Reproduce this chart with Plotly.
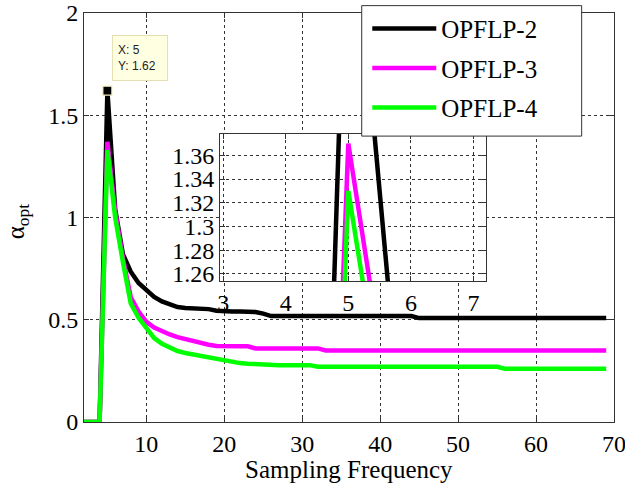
import plotly.graph_objects as go

# Sampling frequency (x) and optimal alpha for each filter order
freq = list(range(2, 70))

opflp2 = [0, 0, 0, 1.62, 1.04, 0.82, 0.735, 0.68, 0.645, 0.612, 0.59, 0.575,
          0.562, 0.558, 0.556, 0.556, 0.552, 0.544, 0.54, 0.54, 0.54, 0.54,
          0.538, 0.53] + [0.518] * 19 + [0.508] * 25

opflp3 = [0, 0, 0, 1.37, 1.03, 0.80, 0.61, 0.54, 0.49, 0.462, 0.443, 0.428,
          0.415, 0.405, 0.397, 0.389, 0.378, 0.372, 0.37, 0.37, 0.37, 0.37] \
    + [0.36] * 9 + [0.35] * 37

opflp4 = [0, 0, 0, 1.33, 1.00, 0.78, 0.58, 0.51, 0.46, 0.41, 0.383, 0.362,
          0.347, 0.337, 0.33, 0.324, 0.318, 0.311, 0.302, 0.293, 0.288, 0.285,
          0.282, 0.28] + [0.278] * 6 + [0.27] * 24 + [0.261] * 14

series_names = ["OPFLP-2", "OPFLP-3", "OPFLP-4"]
series_colors = ["#000000", "#ff00ff", "#00ff00"]
series_values = [opflp2, opflp3, opflp4]

main_xticks = [10, 20, 30, 40, 50, 60, 70]
main_yticks = [0, 0.5, 1, 1.5, 2]
main_yticktext = ["0", "0.5", "1", "1.5", "2"]
inset_xticks = [3, 4, 5, 6, 7]
inset_yticks = [1.26, 1.28, 1.30, 1.32, 1.34, 1.36]
inset_yticktext = ["1.26", "1.28", "1.3", "1.32", "1.34", "1.36"]

SERIF = "Liberation Serif"
LINE_W = 4.5
AXIS_COLOR = "#333333"
GRID_COLOR = "#333333"

fig = go.Figure()

# main plot curves
for name, ys, color in zip(series_names, series_values, series_colors):
    fig.add_trace(go.Scatter(
        x=freq, y=ys, mode="lines", name=name,
        line=dict(color=color, width=LINE_W),
        legendgroup=name, xaxis="x", yaxis="y",
    ))

# data cursor on the OPFLP-2 peak
peak_idx = max(range(len(opflp2)), key=lambda k: opflp2[k])
peak_x, peak_y = freq[peak_idx], opflp2[peak_idx]
fig.add_trace(go.Scatter(
    x=[peak_x], y=[peak_y], mode="markers", showlegend=False,
    marker=dict(symbol="square", size=9, color="#000000",
                line=dict(color="#f4efc4", width=1.2)),
    xaxis="x", yaxis="y", hoverinfo="skip",
))

# zoomed inset around the peak
for name, ys, color in zip(series_names, series_values, series_colors):
    fig.add_trace(go.Scatter(
        x=freq, y=ys, mode="lines", name=name, showlegend=False,
        line=dict(color=color, width=LINE_W),
        xaxis="x2", yaxis="y2",
    ))

axis_common = dict(
    showline=True, mirror="ticks", linecolor=AXIS_COLOR, linewidth=1,
    ticks="inside", ticklen=5, tickcolor=AXIS_COLOR,
    showgrid=True, gridcolor=GRID_COLOR, gridwidth=1, griddash="3px,3px",
    zeroline=False, automargin=False, ticklabeloverflow="allow",
    tickfont=dict(family=SERIF, size=24, color="#000000"),
)

fig.update_layout(
    width=625, height=486,
    margin=dict(l=84, r=11, t=13, b=64, autoexpand=False),
    paper_bgcolor="white", plot_bgcolor="white",
    font=dict(family=SERIF, color="#000000"),
    xaxis=dict(range=[2, 70], tickvals=main_xticks, domain=[0, 1],
               anchor="y", **axis_common),
    yaxis=dict(range=[0, 2], tickvals=main_yticks, ticktext=main_yticktext,
               domain=[0, 1], anchor="x", **axis_common),
    xaxis2=dict(range=[2.95, 7.2], tickvals=inset_xticks,
                domain=[0.2566, 0.7585], anchor="y2", **axis_common),
    yaxis2=dict(range=[1.254, 1.378], tickvals=inset_yticks,
                ticktext=inset_yticktext, domain=[0.3447, 0.7042],
                anchor="x2", **axis_common),
    legend=dict(
        x=0.5345, y=1.018, xanchor="left", yanchor="top",
        bgcolor="rgba(0,0,0,0)", borderwidth=0,
        font=dict(family=SERIF, size=25, color="#000000"),
        itemwidth=64, tracegroupgap=4,
    ),
    showlegend=True,
)

# legend frame
fig.add_shape(
    type="rect", xref="paper", yref="paper",
    x0=0.524, x1=0.939, y0=0.699, y1=1.018, layer="above",
    fillcolor="white", line=dict(color=AXIS_COLOR, width=1),
)

# datatip box
fig.add_annotation(
    x=peak_x, y=peak_y, xref="x", yref="y",
    text=f"X: {peak_x}<br>Y: {peak_y:.2f}",
    showarrow=False, xanchor="left", yanchor="bottom",
    xshift=5, yshift=10, align="left", width=44, height=34,
    font=dict(family="Liberation Sans", size=12, color="#222222"),
    bgcolor="#ffffe1", bordercolor="#e6dfb4", borderwidth=1, borderpad=5,
)

# axis titles
fig.add_annotation(
    x=0.5, y=-0.115, xref="paper", yref="paper",
    text="Sampling Frequency", showarrow=False,
    xanchor="center", yanchor="middle",
    font=dict(family=SERIF, size=25, color="#000000"),
)
fig.add_annotation(
    x=-0.125, y=0.49, xref="paper", yref="paper",
    text="α<sub>opt</sub>", showarrow=False, textangle=-90,
    xanchor="center", yanchor="middle",
    font=dict(family=SERIF, size=25, color="#000000"),
)

fig.write_html("out.html")
